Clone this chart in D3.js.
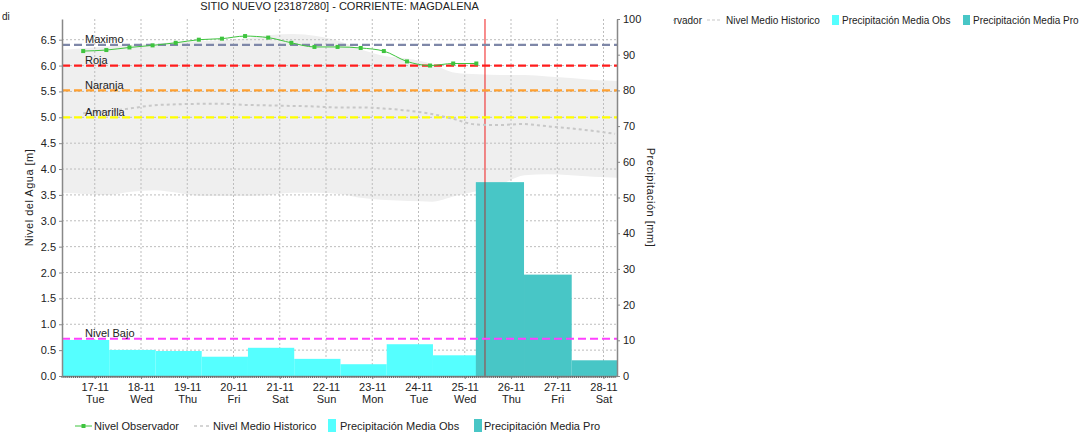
<!DOCTYPE html>
<html lang="es">
<head>
<meta charset="UTF-8">
<title>SITIO NUEVO - MAGDALENA</title>
<style>
    body { margin: 0; background: #fff; }
    svg text { font-family: "Liberation Sans", Arial, sans-serif; fill: #222; }
</style>
</head>
<body>
<svg id="chart" width="1089" height="434"></svg>

<script src="https://d3js.org/d3.v7.min.js"></script>
<script>
// ---- data ----
var levelDates = ["2020-11-16T18:00", "2020-11-17T06:00", "2020-11-17T18:00", "2020-11-18T06:00",
    "2020-11-18T18:00", "2020-11-19T06:00", "2020-11-19T18:00", "2020-11-20T06:00", "2020-11-20T18:00",
    "2020-11-21T06:00", "2020-11-21T18:00", "2020-11-22T06:00", "2020-11-22T18:00", "2020-11-23T06:00",
    "2020-11-23T18:00", "2020-11-24T06:00", "2020-11-24T18:00", "2020-11-25T06:00"];
var levelObs = [6.28, 6.30, 6.35, 6.39, 6.44, 6.50, 6.52, 6.57, 6.54, 6.44, 6.36, 6.36, 6.34, 6.28, 6.08, 6.00, 6.04, 6.04];

var meanDates = ["2020-11-16T18:00", "2020-11-17T06:00", "2020-11-17T18:00", "2020-11-18T06:00",
    "2020-11-18T18:00", "2020-11-19T06:00", "2020-11-19T18:00", "2020-11-20T06:00", "2020-11-20T18:00",
    "2020-11-21T06:00", "2020-11-21T18:00", "2020-11-22T06:00", "2020-11-22T18:00", "2020-11-23T06:00",
    "2020-11-23T18:00", "2020-11-24T06:00", "2020-11-24T18:00", "2020-11-25T06:00", "2020-11-25T18:00",
    "2020-11-26T06:00", "2020-11-26T18:00", "2020-11-27T06:00", "2020-11-27T18:00", "2020-11-28T06:00"];
var meanHist = [5.08, 5.11, 5.17, 5.23, 5.25, 5.26, 5.26, 5.24, 5.23, 5.22, 5.21, 5.19,
    5.19, 5.17, 5.13, 5.07, 4.97, 4.86, 4.85, 4.87, 4.83, 4.79, 4.74, 4.68];

var bandDates = ["2020-11-16T07:00", "2020-11-16T19:00", "2020-11-17T07:00", "2020-11-17T19:00",
    "2020-11-18T07:00", "2020-11-18T19:00", "2020-11-19T07:00", "2020-11-19T19:00", "2020-11-20T07:00",
    "2020-11-20T19:00", "2020-11-21T07:00", "2020-11-21T19:00", "2020-11-22T07:00", "2020-11-22T19:00",
    "2020-11-23T07:00", "2020-11-23T19:00", "2020-11-24T07:00", "2020-11-24T19:00", "2020-11-25T07:00",
    "2020-11-25T19:00", "2020-11-26T07:00", "2020-11-26T19:00", "2020-11-27T07:00", "2020-11-27T19:00",
    "2020-11-28T07:00"];
var bandHigh = [6.30, 6.34, 6.37, 6.40, 6.42, 6.46, 6.47, 6.49, 6.53, 6.59, 6.61, 6.57, 6.47,
    6.30, 6.18, 6.13, 6.03, 5.86, 5.83, 5.82, 5.82, 5.79, 5.76, 5.72, 5.70];
var bandLow = [3.54, 3.52, 3.50, 3.56, 3.59, 3.54, 3.48, 3.48, 3.48, 3.50, 3.54, 3.54, 3.52,
    3.44, 3.40, 3.38, 3.37, 3.48, 3.58, 3.71, 3.88, 3.90, 3.88, 3.85, 3.83];

// daily precipitation, period starts
var rainObsStart = ["2020-11-15T07:30", "2020-11-16T07:30", "2020-11-17T07:30", "2020-11-18T07:30",
    "2020-11-19T07:30", "2020-11-20T07:30", "2020-11-21T07:30", "2020-11-22T07:30", "2020-11-23T07:30",
    "2020-11-24T07:30"];
var rainObs = [19.7, 10.1, 7.3, 7.0, 5.4, 7.9, 4.8, 3.3, 8.9, 5.8];
var rainProStart = ["2020-11-25T05:45", "2020-11-26T06:45", "2020-11-27T07:30"];
var rainPro = [54.3, 28.4, 4.4];

var thresholdNames = ["Maximo", "Roja", "Naranja", "Amarilla", "Nivel Bajo"];
var thresholdValues = [6.40, 6.00, 5.52, 5.00, 0.72];
var thresholdColors = ["#7e87a8", "#ff1c1c", "#ffa030", "#ffff00", "#ff40ff"];

var tickDates = ["2020-11-17", "2020-11-18", "2020-11-19", "2020-11-20", "2020-11-21", "2020-11-22",
    "2020-11-23", "2020-11-24", "2020-11-25", "2020-11-26", "2020-11-27", "2020-11-28"];
var levelTicks = [0, 0.5, 1, 1.5, 2, 2.5, 3, 3.5, 4, 4.5, 5, 5.5, 6, 6.5];
var rainTicks = [0, 10, 20, 30, 40, 50, 60, 70, 80, 90, 100];

var nowDate = "2020-11-25T10:30";
var startDate = "2020-11-16T07:00", endDate = "2020-11-28T07:00";

// ---- layout ----
var pLeft = 62, pRight = 617, pTop = 19, pBottom = 376;
var parse = function (s) { return new Date(s + (s.length > 10 ? ":00Z" : "T00:00:00Z")); };

var svg = d3.select("#chart");

var x = d3.scaleUtc().domain([parse(startDate), parse(endDate)]).range([pLeft, pRight]);
var yL = d3.scaleLinear().domain([0, 6.9]).range([pBottom, pTop]);
var yR = d3.scaleLinear().domain([0, 100]).range([pBottom, pTop]);

var defs = svg.append("defs");
defs.append("clipPath").attr("id", "plot")
    .append("rect").attr("x", pLeft).attr("y", pTop).attr("width", pRight - pLeft).attr("height", pBottom - pTop);
defs.append("clipPath").attr("id", "legendClip")
    .append("rect").attr("x", 673).attr("y", 0).attr("width", 416).attr("height", 40);

var plot = svg.append("g").attr("clip-path", "url(#plot)");

// historical range band
var band = bandDates.map(function (d, i) { return { t: parse(d), lo: bandLow[i], hi: bandHigh[i] }; });
plot.append("path").datum(band)
    .attr("fill", "#efefef")
    .attr("d", d3.area().x(function (d) { return x(d.t); })
        .y0(function (d) { return yL(d.lo); }).y1(function (d) { return yL(d.hi); })
        .curve(d3.curveMonotoneX));

// grid
plot.append("g").selectAll("line").data(levelTicks).enter().append("line")
    .attr("x1", pLeft).attr("x2", pRight)
    .attr("y1", function (d) { return yL(d); }).attr("y2", function (d) { return yL(d); })
    .attr("stroke", "#bdbdbd").attr("stroke-dasharray", "2,2");
plot.append("g").selectAll("line").data(tickDates).enter().append("line")
    .attr("x1", function (d) { return x(parse(d)); }).attr("x2", function (d) { return x(parse(d)); })
    .attr("y1", pTop).attr("y2", pBottom)
    .attr("stroke", "#bdbdbd").attr("stroke-dasharray", "2,2");

// current time marker (under the bars, tinted where a bar covers it)
var nowX = x(parse(nowDate));
plot.append("line")
    .attr("x1", nowX).attr("x2", nowX).attr("y1", pTop).attr("y2", pBottom)
    .attr("stroke", "#f01c1c").attr("stroke-width", 1);

// precipitation bars
function bars(starts, values, color) {
    plot.append("g").selectAll("rect").data(values).enter().append("rect")
        .attr("x", function (d, i) { return x(parse(starts[i])); })
        .attr("width", function (d, i) {
            var s = parse(starts[i]);
            var e = i + 1 < starts.length ? parse(starts[i + 1]) : d3.utcDay.offset(s, 1);
            return x(e) - x(s);
        })
        .attr("y", function (d) { return yR(d); })
        .attr("height", function (d) { return pBottom - yR(d); })
        .attr("fill", color);
}
bars(rainObsStart, rainObs, "#55ffff");
bars(rainProStart, rainPro, "#48c6c6");

plot.append("line")
    .attr("x1", nowX).attr("x2", nowX).attr("y1", yR(rainPro[0])).attr("y2", pBottom)
    .attr("stroke", "#a33a3a").attr("stroke-width", 1);

// threshold lines
thresholdValues.forEach(function (v, i) {
    plot.append("line")
        .attr("x1", pLeft).attr("x2", pRight).attr("y1", yL(v)).attr("y2", yL(v))
        .attr("stroke", thresholdColors[i]).attr("stroke-width", 2.2)
        .attr("stroke-dasharray", "8,4");
    svg.append("text").attr("x", 85).attr("y", yL(v) - 1.5)
        .attr("font-size", 11).text(thresholdNames[i]);
});

// historical mean
plot.append("path").datum(meanDates.map(function (d, i) { return { t: parse(d), v: meanHist[i] }; }))
    .attr("fill", "none").attr("stroke", "#c8c8c8").attr("stroke-width", 2)
    .attr("stroke-dasharray", "3,3")
    .attr("d", d3.line().x(function (d) { return x(d.t); }).y(function (d) { return yL(d.v); })
        .curve(d3.curveMonotoneX));

// observed level
var obs = levelDates.map(function (d, i) { return { t: parse(d), v: levelObs[i] }; });
plot.append("path").datum(obs)
    .attr("fill", "none").attr("stroke", "#3ec43e").attr("stroke-width", 1)
    .attr("d", d3.line().x(function (d) { return x(d.t); }).y(function (d) { return yL(d.v); })
        .curve(d3.curveMonotoneX));
plot.append("g").selectAll("rect").data(obs).enter().append("rect")
    .attr("x", function (d) { return x(d.t) - 2; }).attr("y", function (d) { return yL(d.v) - 2; })
    .attr("width", 4).attr("height", 4).attr("fill", "#3ec43e");

// axes
var axisColor = "#888";
var gL = svg.append("g").attr("transform", "translate(" + pLeft + ",0)")
    .call(d3.axisLeft(yL).tickValues(levelTicks).tickFormat(d3.format(".1f")).tickSize(3).tickSizeOuter(0));
var gR = svg.append("g").attr("transform", "translate(" + pRight + ",0)")
    .call(d3.axisRight(yR).tickValues(rainTicks).tickSize(3).tickSizeOuter(0));
var gB = svg.append("g").attr("transform", "translate(0," + pBottom + ")")
    .call(d3.axisBottom(x).tickValues(tickDates.map(parse)).tickSize(3).tickSizeOuter(0).tickFormat(""));

[gL, gR, gB].forEach(function (g) {
    g.select(".domain").attr("stroke", axisColor).attr("stroke-width", 1.5);
    g.selectAll(".tick line").attr("stroke", axisColor);
    g.selectAll(".tick text").attr("font-size", 11).attr("fill", "#222")
        .attr("font-family", "Liberation Sans, Arial, sans-serif");
});

// hourly minor ticks on the time axis
gB.append("g").selectAll("line")
    .data(d3.utcHour.range(parse(startDate), parse(endDate)))
    .enter().append("line")
    .attr("x1", function (d) { return x(d); }).attr("x2", function (d) { return x(d); })
    .attr("y1", 0).attr("y2", 2).attr("stroke", "#666");

var fmtDay = d3.utcFormat("%d-%m"), fmtWeek = d3.utcFormat("%a");
gB.selectAll(".tick").append("text")
    .attr("text-anchor", "middle").attr("font-size", 11)
    .each(function (d) {
        var t = d3.select(this);
        t.append("tspan").attr("x", 0).attr("y", 15).text(fmtDay(d));
        t.append("tspan").attr("x", 0).attr("y", 27).text(fmtWeek(d));
    });

// titles
svg.append("text").attr("x", (pLeft + pRight) / 2).attr("y", 10)
    .attr("text-anchor", "middle").attr("font-size", 11)
    .text("SITIO NUEVO [23187280] - CORRIENTE: MAGDALENA");
svg.append("text").attr("x", 2).attr("y", 20).attr("font-size", 10).text("di");

svg.append("text").attr("transform", "translate(33," + (pTop + pBottom) / 2 + ") rotate(-90)")
    .attr("text-anchor", "middle").attr("font-size", 11).attr("letter-spacing", 0.5)
    .text("Nivel del Agua [m]");
svg.append("text").attr("transform", "translate(647," + (pTop + pBottom) / 2 + ") rotate(90)")
    .attr("text-anchor", "middle").attr("font-size", 11).attr("letter-spacing", 0.5)
    .text("Precipitación [mm]");

// bottom legend
var lg = svg.append("g").attr("font-size", 11);
lg.append("line").attr("x1", 75).attr("x2", 92).attr("y1", 426).attr("y2", 426)
    .attr("stroke", "#3ec43e");
lg.append("rect").attr("x", 81.5).attr("y", 424).attr("width", 4).attr("height", 4).attr("fill", "#3ec43e");
lg.append("text").attr("x", 94).attr("y", 430).text("Nivel Observador");
lg.append("line").attr("x1", 194).attr("x2", 210).attr("y1", 426).attr("y2", 426)
    .attr("stroke", "#c8c8c8").attr("stroke-width", 1.5).attr("stroke-dasharray", "3,3");
lg.append("text").attr("x", 213).attr("y", 430).text("Nivel Medio Historico");
lg.append("rect").attr("x", 328).attr("y", 419).attr("width", 8).attr("height", 13).attr("fill", "#55ffff");
lg.append("text").attr("x", 340).attr("y", 430).text("Precipitación Media Obs");
lg.append("rect").attr("x", 474).attr("y", 419).attr("width", 8).attr("height", 13).attr("fill", "#48c6c6");
lg.append("text").attr("x", 484).attr("y", 430).text("Precipitación Media Pro");

// clipped copy of the legend at top right
var tg = svg.append("g").attr("font-size", 10).attr("clip-path", "url(#legendClip)");
tg.append("text").attr("x", 702).attr("y", 24).attr("text-anchor", "end").text("Nivel Observador");
tg.append("line").attr("x1", 707).attr("x2", 722).attr("y1", 20).attr("y2", 20)
    .attr("stroke", "#c8c8c8").attr("stroke-width", 1.2).attr("stroke-dasharray", "3,2");
tg.append("text").attr("x", 726).attr("y", 24).text("Nivel Medio Historico");
tg.append("rect").attr("x", 832).attr("y", 15).attr("width", 7).attr("height", 10).attr("fill", "#55ffff");
tg.append("text").attr("x", 842).attr("y", 24).text("Precipitación Media Obs");
tg.append("rect").attr("x", 963).attr("y", 15).attr("width", 7).attr("height", 10).attr("fill", "#48c6c6");
tg.append("text").attr("x", 973).attr("y", 24).text("Precipitación Media Pro");
</script>
</body>
</html>
